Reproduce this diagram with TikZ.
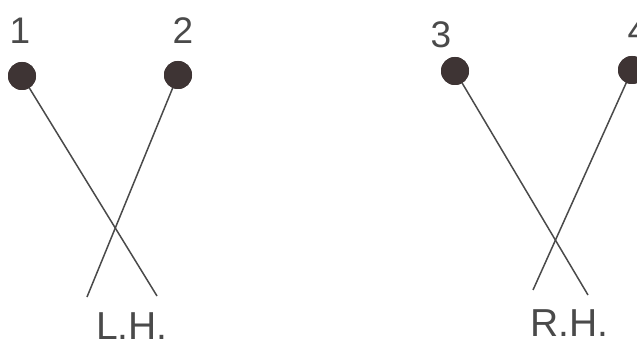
\documentclass[tikz,border=0pt]{standalone}
\usepackage{fontspec}
\setmainfont{Liberation Sans}
\definecolor{ink}{HTML}{4A4A4A}
\definecolor{ball}{HTML}{3E3434}
\begin{document}
\begin{tikzpicture}[x=1pt,y=-1pt,
  mallet/.style={circle,fill=ball,minimum size=28pt,inner sep=0pt},
  shaft/.style={draw=ink,line width=1.5pt},
  lbl/.style={text=ink,font=\fontsize{37}{37}\selectfont,inner sep=0pt},
  hand/.style={text=ink,font=\fontsize{39}{39}\selectfont,inner sep=0pt}]
\useasboundingbox (0,0) rectangle (637,350);
\clip (0,0) rectangle (637,350);
\fill[white] (0,0) rectangle (637,350);
% left hand
\coordinate (e1) at (157,296);
\coordinate (e2) at (87,297);
\node[mallet] (b1) at (22,76) {};
\node[mallet] (b2) at (178,75) {};
\draw[shaft] (b1.center) -- (e1);
\draw[shaft] (b2.center) -- (e2);
\fill[ball] (b1) circle (14pt);
\fill[ball] (b2) circle (14pt);
\node[lbl] (n1) at (20,31) {1};
\node[lbl] (n2) at (183,31) {2};
\node[hand] (lh) at (132,326) {L.H.};
% right hand
\coordinate (e3) at (588,295);
\coordinate (e4) at (533,290);
\node[mallet] (b3) at (455,71) {};
\node[mallet] (b4) at (632,70) {};
\draw[shaft] (b3.center) -- (e3);
\draw[shaft] (b4.center) -- (e4);
\fill[ball] (b3) circle (14pt);
\fill[ball] (b4) circle (14pt);
\node[lbl] (n3) at (441,35) {3};
\node[lbl] (n4) at (638,31) {4};
\node[hand] (rh) at (569,323) {R.H.};
\end{tikzpicture}
\end{document}
